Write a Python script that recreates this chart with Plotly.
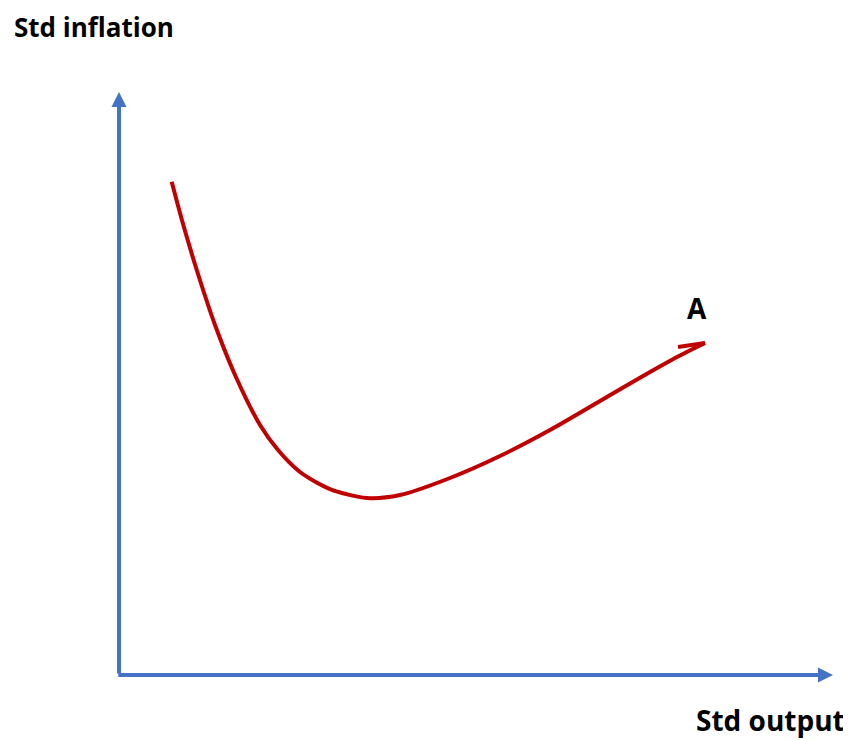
import plotly.graph_objects as go

# Curve (std output, std inflation) in arbitrary diagram units
curve_x = [0.738, 0.901, 1.111, 1.345, 1.625, 1.975, 2.227, 2.535, 2.955, 3.473,
           3.936, 4.636, 5.336, 6.036, 6.737, 7.437, 7.815, 8.207]
curve_y = [8.461, 7.719, 6.861, 6.003, 5.146, 4.288, 3.859, 3.482, 3.190, 3.036,
           3.087, 3.379, 3.756, 4.202, 4.700, 5.197, 5.455, 5.695]
hook_x = [8.207, 7.829]
hook_y = [5.695, 5.626]

axis_max_x = 10
axis_max_y = 10
point_label = "A"
x_title = "Std output"
y_title = "Std inflation"

RED = "#C00000"
BLUE = "#4472C4"
FONT = "Open Sans"

fig = go.Figure()
fig.add_trace(go.Scatter(x=curve_x, y=curve_y, mode="lines",
                         line=dict(color=RED, width=4, shape="spline", smoothing=0.8),
                         hoverinfo="skip"))
fig.add_trace(go.Scatter(x=hook_x, y=hook_y, mode="lines",
                         line=dict(color=RED, width=4), hoverinfo="skip"))

# Axes with arrowheads
fig.add_annotation(x=0, y=axis_max_y, ax=0, ay=0, xref="x", yref="y", axref="x", ayref="y",
                   showarrow=True, arrowhead=2, arrowsize=0.75, arrowwidth=4, arrowcolor=BLUE,
                   text="", standoff=0)
fig.add_annotation(x=axis_max_x, y=0, ax=-0.03, ay=0, xref="x", yref="y", axref="x", ayref="y",
                   showarrow=True, arrowhead=2, arrowsize=0.75, arrowwidth=4, arrowcolor=BLUE,
                   text="", standoff=0)

# Labels
fig.add_annotation(x=-1.499, y=11.115, xref="x", yref="y", text="<b>%s</b>" % y_title,
                   showarrow=False, xanchor="left", yanchor="middle",
                   font=dict(family=FONT, size=26, color="black"))
fig.add_annotation(x=10.196, y=-0.78, xref="x", yref="y", text="<b>%s</b>" % x_title,
                   showarrow=False, xanchor="right", yanchor="middle",
                   font=dict(family=FONT, size=28, color="black"))
fig.add_annotation(x=8.095, y=6.30, xref="x", yref="y", text="<b>%s</b>" % point_label,
                   showarrow=False, xanchor="center", yanchor="middle",
                   font=dict(family=FONT, size=28, color="black"))

fig.update_layout(
    width=851, height=740,
    margin=dict(l=0, r=0, t=0, b=0),
    paper_bgcolor="white", plot_bgcolor="white",
    showlegend=False,
    xaxis=dict(range=[-1.5546, 10.364], visible=False, fixedrange=True),
    yaxis=dict(range=[-1.2521, 11.441], visible=False, fixedrange=True),
)

fig.write_html("out.html")
